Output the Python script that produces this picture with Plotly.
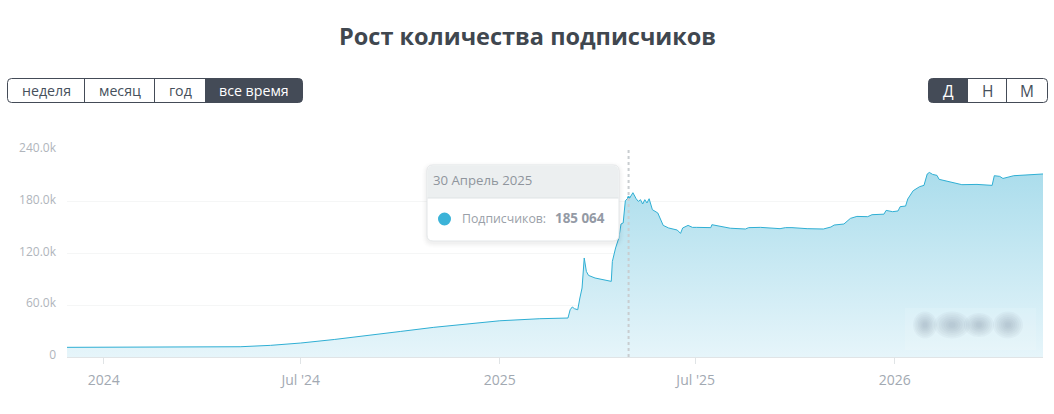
import plotly.graph_objects as go

dates = [
    "2023-11-28", "2024-01-07", "2024-02-13", "2024-04-18", "2024-05-06", "2024-06-03",
    "2024-07-01", "2024-08-01", "2024-09-01", "2024-10-01", "2024-11-01", "2024-12-01",
    "2025-01-01", "2025-02-07", "2025-03-05",
    "2025-03-07", "2025-03-09", "2025-03-11", "2025-03-14", "2025-03-16", "2025-03-18",
    "2025-03-20", "2025-03-22", "2025-03-24", "2025-03-30", "2025-04-14", "2025-04-15",
    "2025-04-18", "2025-04-21", "2025-04-23", "2025-04-25", "2025-04-27", "2025-04-29",
    "2025-04-30", "2025-05-01", "2025-05-04", "2025-05-07", "2025-05-09", "2025-05-11",
    "2025-05-13", "2025-05-15", "2025-05-17", "2025-05-19", "2025-05-22", "2025-05-27",
    "2025-05-29", "2025-06-01", "2025-06-06", "2025-06-14", "2025-06-17", "2025-06-19",
    "2025-06-24", "2025-06-28", "2025-07-02", "2025-07-15", "2025-07-16", "2025-07-24",
    "2025-08-02", "2025-08-16", "2025-08-19", "2025-08-30", "2025-09-17", "2025-09-22",
    "2025-09-28", "2025-10-12", "2025-10-27", "2025-11-03", "2025-11-06", "2025-11-15",
    "2025-11-21", "2025-11-27", "2025-12-07", "2025-12-11", "2025-12-22", "2025-12-24",
    "2025-12-30", "2026-01-04", "2026-01-06", "2026-01-11", "2026-01-13", "2026-01-18",
    "2026-01-24", "2026-01-28", "2026-01-31", "2026-02-02", "2026-02-05", "2026-02-09",
    "2026-02-11", "2026-03-04", "2026-03-18", "2026-04-01", "2026-04-03", "2026-04-08",
    "2026-04-11", "2026-04-21", "2026-05-06", "2026-05-18",
]
subscribers = [
    11200, 11400, 11600, 11200, 11900, 13500,
    16200, 20300, 24700, 29600, 34400, 38500,
    42000, 44400, 45200,
    54800, 58000, 56000, 54800, 68400, 80000,
    114800, 99200, 94600, 91600, 87700, 110800,
    126400, 138000, 154200, 155400, 181200, 183500,
    185064, 184300, 190500, 183500, 180400, 182400,
    177400, 182400, 178600, 183500, 170800, 167000,
    161200, 152600, 149600, 147200, 143300, 149600,
    152600, 150300, 150300, 150000, 153400, 151700,
    149300, 148400, 150000, 150300, 148800, 150000,
    150000, 148800, 148400, 150700, 153000, 154200,
    160700, 163000, 162700, 165000, 165600, 170000,
    168500, 169300, 174300, 175000, 183200, 192800,
    197500, 199000, 212200, 214000, 211700, 210600,
    206000, 199800, 200100, 199000, 210200, 209400,
    207000, 210200, 211400, 212200,
]
x_ticks = ["2024-01-01", "2024-07-01", "2025-01-01", "2025-07-01", "2026-01-01"]
x_labels = ["2024", "Jul '24", "2025", "Jul '25", "2026"]
y_ticks = [0, 60000, 120000, 180000, 240000]
y_labels = ["0", "60.0k", "120.0k", "180.0k", "240.0k"]
hover_date = "2025-04-30"
hover_value = 185064

W, H = 1054, 414
L, R, T, B = 67, 11, 150, 57
DARK = "#444b57"
FONT = "Open Sans"


def px_x(x):
    return (x - L) / (W - L - R)


def px_y(y):
    return (H - B - y) / (H - T - B)


def rounded(x0, y0, x1, y1, r=4, corners="tl tr br bl"):
    # rounded box given in page pixels, path goes out in paper coords
    c = corners.split()
    pts = f"M{px_x(x0 + (r if 'tl' in c else 0))},{px_y(y0)}"
    pts += f" L{px_x(x1 - (r if 'tr' in c else 0))},{px_y(y0)}"
    if "tr" in c:
        pts += f" Q{px_x(x1)},{px_y(y0)} {px_x(x1)},{px_y(y0 + r)}"
    pts += f" L{px_x(x1)},{px_y(y1 - (r if 'br' in c else 0))}"
    if "br" in c:
        pts += f" Q{px_x(x1)},{px_y(y1)} {px_x(x1 - r)},{px_y(y1)}"
    pts += f" L{px_x(x0 + (r if 'bl' in c else 0))},{px_y(y1)}"
    if "bl" in c:
        pts += f" Q{px_x(x0)},{px_y(y1)} {px_x(x0)},{px_y(y1 - r)}"
    pts += f" L{px_x(x0)},{px_y(y0 + (r if 'tl' in c else 0))}"
    if "tl" in c:
        pts += f" Q{px_x(x0)},{px_y(y0)} {px_x(x0 + r)},{px_y(y0)}"
    return pts + " Z"


def box(x0, y0, x1, y1, fill="rgba(0,0,0,0)", line=None, width=1, r=4, corners="tl tr br bl"):
    return dict(
        type="path", xref="paper", yref="paper", layer="above",
        path=rounded(x0, y0, x1, y1, r, corners),
        fillcolor=fill, line=dict(color=line or "rgba(0,0,0,0)", width=width if line else 0),
    )


def vline(x, y0, y1, color=DARK):
    return dict(
        type="line", xref="paper", yref="paper", layer="above",
        x0=px_x(x), x1=px_x(x), y0=px_y(y0), y1=px_y(y1), line=dict(color=color, width=1),
    )


def text(x, y, s, size=14.2, color="#46505c", anchor="center", bold=False, family=FONT):
    return dict(
        xref="paper", yref="paper", x=px_x(x), y=px_y(y), xanchor=anchor, yanchor="middle",
        text=f"<b>{s}</b>" if bold else s, showarrow=False,
        font=dict(size=size, color=color, family=family),
    )


fig = go.Figure()
fig.add_trace(go.Scatter(
    x=dates, y=subscribers, mode="lines",
    line=dict(color="#2fafd4", width=1),
    fill="tozeroy",
    fillgradient=dict(type="vertical", colorscale=[[0, "#e6f5fa"], [1, "#abddec"]]),
    hoverinfo="skip",
))
fig.add_trace(go.Scatter(
    x=[hover_date], y=[hover_value], mode="markers",
    marker=dict(color="#2fafd4", size=3), hoverinfo="skip",
))

shapes = []
annotations = [text(527.5, 36, "Рост количества подписчиков", size=23.5, color="#40474f", bold=True)]

# period buttons on the left
shapes.append(box(205, 78.5, 302.5, 102.5, fill=DARK, corners="tr br"))
shapes.append(box(7.5, 78.5, 302.5, 102.5, line=DARK))
shapes.append(vline(84.5, 78.5, 102.5))
shapes.append(vline(154.5, 78.5, 102.5))
annotations += [
    text(46, 90.5, "неделя"),
    text(119.5, 90.5, "месяц"),
    text(180, 90.5, "год"),
    text(254, 90.5, "все время", color="#ffffff"),
]

# Д / Н / М buttons on the right
shapes.append(box(928.5, 78.5, 968, 102.5, fill=DARK, corners="tl bl"))
shapes.append(box(928.5, 78.5, 1047.5, 102.5, line=DARK))
shapes.append(vline(1006.5, 78.5, 102.5))
annotations += [
    text(948, 90.5, "Д", size=15.5, color="#ffffff"),
    text(987, 90.5, "Н", size=15.5),
    text(1026.5, 90.5, "М", size=15.5),
]

# dashed crosshair
shapes.append(dict(
    type="line", xref="x", yref="paper", layer="above",
    x0=hover_date, x1=hover_date, y0=0, y1=1,
    line=dict(color="#c9cdd0", width=2, dash="3px,3px"),
))

# blurred watermark, bottom right
shapes.append(dict(
    type="rect", xref="paper", yref="paper", layer="above",
    x0=px_x(905), x1=px_x(1036), y0=px_y(350), y1=px_y(308),
    fillcolor="rgba(255,255,255,0.12)", line=dict(width=0),
))
for cx, rx, ry in [(925, 8, 9), (952, 12, 9), (979, 10, 8), (1008, 10, 9)]:
    for k in [1.5, 1.3, 1.1, 0.9, 0.7, 0.5, 0.3]:
        shapes.append(dict(
            type="circle", xref="paper", yref="paper", layer="above",
            x0=px_x(cx - rx * k), x1=px_x(cx + rx * k),
            y0=px_y(325 + ry * k), y1=px_y(325 - ry * k),
            fillcolor="rgba(120,135,145,0.06)", line=dict(width=0),
        ))

# tooltip with a soft shadow
for grow, alpha in [(5, 0.006), (4, 0.008), (3, 0.01), (2, 0.012), (1, 0.015)]:
    shapes.append(box(427 - grow, 165 - grow + 2, 619 + grow, 241 + grow + 2,
                      fill=f"rgba(0,0,0,{alpha})", r=6 + grow))
shapes.append(box(427, 165, 619, 241, fill="#ffffff", line="#e3e6e8", r=6))
shapes.append(box(427.5, 165.5, 618.5, 198, fill="#eceff0", r=6, corners="tl tr"))
shapes.append(dict(
    type="line", xref="paper", yref="paper", layer="above",
    x0=px_x(427.5), x1=px_x(618.5), y0=px_y(198), y1=px_y(198),
    line=dict(color="#dfe3e5", width=1),
))
shapes.append(dict(
    type="circle", xref="paper", yref="paper", layer="above",
    x0=px_x(438), x1=px_x(451), y0=px_y(225.5), y1=px_y(212.5),
    fillcolor="#3bb3d8", line=dict(width=0),
))
annotations += [
    text(431, 180, "30 Апрель 2025", size=13.2, color="#8f959d", anchor="left"),
    text(460, 218, "Подписчиков:", size=12.3, color="#9aa0a8", anchor="left"),
    text(553, 218, "185 064", size=13.4, color="#949aa5", anchor="left", bold=True),
]

fig.update_layout(
    width=W, height=H,
    margin=dict(l=L, r=R, t=T, b=B),
    paper_bgcolor="#ffffff", plot_bgcolor="#ffffff",
    showlegend=False,
    font=dict(family=FONT),
    shapes=shapes, annotations=annotations,
)
fig.update_xaxes(
    type="date", range=["2023-11-28", "2026-05-18"],
    tickvals=x_ticks, ticktext=x_labels,
    ticks="outside", ticklen=6, tickcolor="#e0e4e6", tickwidth=1,
    showline=True, linecolor="#e0e4e6", linewidth=1, showgrid=False, zeroline=False,
    ticklabelstandoff=4,
    tickfont=dict(size=14, color="#a2a9b2", family=FONT),
)
fig.update_yaxes(
    range=[0, 240000],
    tickvals=y_ticks, ticktext=y_labels,
    showgrid=True, gridcolor="#f5f6f6", gridwidth=1, zeroline=False,
    ticks="", ticklabelstandoff=10, ticklabelshift=-2,
    tickfont=dict(size=12, color="#b0b5bc", family=FONT),
)

fig.write_html("out.html", config={"displayModeBar": False}, post_script="document.body.style.margin='0';")
